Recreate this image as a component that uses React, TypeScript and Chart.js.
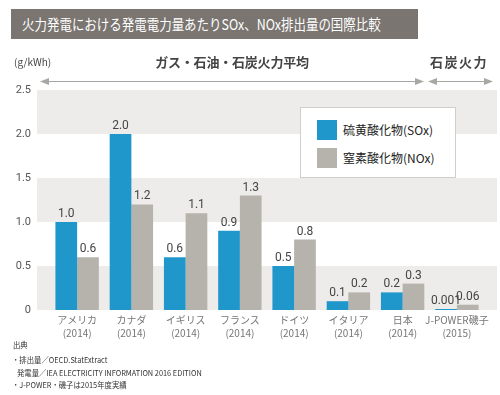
import React, { useEffect, useRef } from "react";
import { Chart, registerables } from "chart.js";
Chart.register(...registerables);

const categories = ["アメリカ", "カナダ", "イギリス", "フランス", "ドイツ", "イタリア", "日本", "J-POWER磯子"];
const years = ["(2014)", "(2014)", "(2014)", "(2014)", "(2014)", "(2014)", "(2014)", "(2015)"];
const soxValues = [1.0, 2.0, 0.6, 0.9, 0.5, 0.1, 0.2, 0.001];
const noxValues = [0.6, 1.2, 1.1, 1.3, 0.8, 0.2, 0.3, 0.06];
const soxLabels = ["1.0", "2.0", "0.6", "0.9", "0.5", "0.1", "0.2", "0.001"];
const noxLabels = ["0.6", "1.2", "1.1", "1.3", "0.8", "0.2", "0.3", "0.06"];
const seriesNames = ["硫黄酸化物(SOx)", "窒素酸化物(NOx)"];
const bands = [[0, 0.5], [1.0, 1.5], [2.0, 2.5]];

const BLUE = "#1f97cb";
const GRAY = "#b6b3ac";
const JP = "'Noto Sans CJK JP', 'Noto Sans', sans-serif";
const NUM = "Roboto, 'Liberation Sans', sans-serif";

const bandPlugin = {
  id: "bands",
  beforeDatasetsDraw(chart: any) {
    const { ctx, scales } = chart;
    const y = scales.y;
    ctx.save();
    ctx.fillStyle = "#edecea";
    for (const [a, b] of bands) {
      const top = y.getPixelForValue(b);
      const bot = y.getPixelForValue(a);
      ctx.fillRect(37, top, 460, bot - top);
    }
    ctx.restore();
  },
};

const labelPlugin = {
  id: "valueLabels",
  afterDatasetsDraw(chart: any) {
    const { ctx } = chart;
    const lists = [soxLabels, noxLabels];
    ctx.save();
    ctx.font = `12px ${NUM}`;
    ctx.fillStyle = "#444";
    ctx.textAlign = "center";
    ctx.textBaseline = "bottom";
    chart.data.datasets.forEach((ds: any, di: number) => {
      const meta = chart.getDatasetMeta(di);
      meta.data.forEach((el: any, i: number) => {
        ctx.fillText(lists[di][i], el.x, el.y - 2);
      });
    });
    ctx.restore();
  },
};

const arrowPlugin = {
  id: "arrows",
  afterDraw(chart: any) {
    const { ctx } = chart;
    const y = 81.5;
    const draw = (x1: number, x2: number) => {
      ctx.beginPath();
      ctx.moveTo(x1 + 4, y);
      ctx.lineTo(x2 - 4, y);
      ctx.stroke();
      ctx.beginPath();
      ctx.moveTo(x1, y);
      ctx.lineTo(x1 + 9, y - 3.5);
      ctx.lineTo(x1 + 9, y + 3.5);
      ctx.closePath();
      ctx.fill();
      ctx.beginPath();
      ctx.moveTo(x2, y);
      ctx.lineTo(x2 - 9, y - 3.5);
      ctx.lineTo(x2 - 9, y + 3.5);
      ctx.closePath();
      ctx.fill();
    };
    ctx.save();
    ctx.strokeStyle = "#a9a7a3";
    ctx.fillStyle = "#a9a7a3";
    ctx.lineWidth = 1.2;
    draw(40, 424);
    draw(428, 493);
    ctx.restore();
  },
};

export default function App() {
  const ref = useRef<HTMLCanvasElement>(null);
  useEffect(() => {
    document.body.style.margin = "0";
    const chart = new Chart(ref.current!, {
      type: "bar",
      data: {
        labels: categories.map((c, i) => [c, years[i]]),
        datasets: [
          { label: seriesNames[0], data: soxValues, backgroundColor: BLUE, minBarLength: 1, categoryPercentage: 0.8, barPercentage: 1.0 },
          { label: seriesNames[1], data: noxValues, backgroundColor: GRAY, categoryPercentage: 0.8, barPercentage: 1.0 },
        ],
      },
      options: {
        animation: false,
        responsive: false,
        devicePixelRatio: 1,
        layout: { padding: { top: 90, right: 16, left: 0, bottom: 0 } },
        plugins: { legend: { display: false }, tooltip: { enabled: false }, title: { display: false } },
        scales: {
          x: {
            grid: { display: false, drawTicks: false },
            border: { display: false },
            ticks: { font: { family: JP, size: 10, lineHeight: 1.3 }, color: "#777", padding: 4, autoSkip: false, maxRotation: 0 },
            afterFit(scale: any) { scale.height = 85; },
          },
          y: {
            min: 0,
            max: 2.5,
            grid: { display: false, drawTicks: false },
            border: { display: false },
            ticks: {
              stepSize: 0.5,
              padding: 19,
              color: "#555",
              font: { family: NUM, size: 11 },
              callback: (v: any) => (Number(v) === 0 ? "0" : Number(v).toFixed(1)),
            },
            afterFit(scale: any) { scale.width = 50; },
          },
        },
      },
      plugins: [bandPlugin, labelPlugin, arrowPlugin],
    });
    return () => chart.destroy();
  }, []);

  const abs = (s: React.CSSProperties): React.CSSProperties => ({ position: "absolute", whiteSpace: "nowrap", ...s });
  const note = (left: number, top: number): React.CSSProperties =>
    abs({ left, top, fontSize: 8, lineHeight: "12px", color: "#333", transform: "scaleX(0.92)", transformOrigin: "left center" });

  return (
    <div style={{ position: "absolute", left: 0, top: 0, width: 500, height: 395, background: "#fff", fontFamily: JP }}>
      <canvas ref={ref} width={500} height={395} style={{ position: "absolute", left: 0, top: 0, width: 500, height: 395 }} />
      <div style={abs({ left: 11, top: 9, width: 407, height: 30, background: "#7a7570" })}>
        <div style={abs({ left: 11, top: 0, color: "#fff", fontSize: 14.5, lineHeight: "30px", transform: "scaleX(0.86)", transformOrigin: "left center" })}>
          火力発電における発電電力量あたりSOx、NOx排出量の国際比較
        </div>
      </div>
      <div style={abs({ left: 14, top: 55, fontSize: 10, lineHeight: "14px", color: "#444" })}>(g/kWh)</div>
      <div style={abs({ left: 132, width: 200, textAlign: "center", top: 53, fontSize: 13, lineHeight: "18px", fontWeight: 700, color: "#444", letterSpacing: -0.2 })}>
        ガス・石油・石炭火力平均
      </div>
      <div style={abs({ left: 430, top: 53, fontSize: 13, lineHeight: "18px", fontWeight: 700, color: "#444", letterSpacing: 1.5 })}>石炭火力</div>

      <div style={abs({ left: 300, top: 107, width: 154, height: 69, background: "#fff", border: "1px solid #cfcfcf" })}>
        <div style={abs({ left: 16, top: 12, width: 20, height: 20, background: BLUE })} />
        <div style={abs({ left: 42, top: 13, fontSize: 12, lineHeight: "18px", color: "#222" })}>{seriesNames[0]}</div>
        <div style={abs({ left: 16, top: 40, width: 20, height: 20, background: GRAY })} />
        <div style={abs({ left: 42, top: 41, fontSize: 12, lineHeight: "18px", color: "#222" })}>{seriesNames[1]}</div>
      </div>

      <div style={note(13, 339)}>出典</div>
      <div style={note(12, 354)}>・排出量／OECD.StatExtract</div>
      <div style={note(17, 367)}>発電量／IEA ELECTRICITY INFORMATION 2016 EDITION</div>
      <div style={note(12, 379)}>・J-POWER・磯子は2015年度実績</div>
    </div>
  );
}
